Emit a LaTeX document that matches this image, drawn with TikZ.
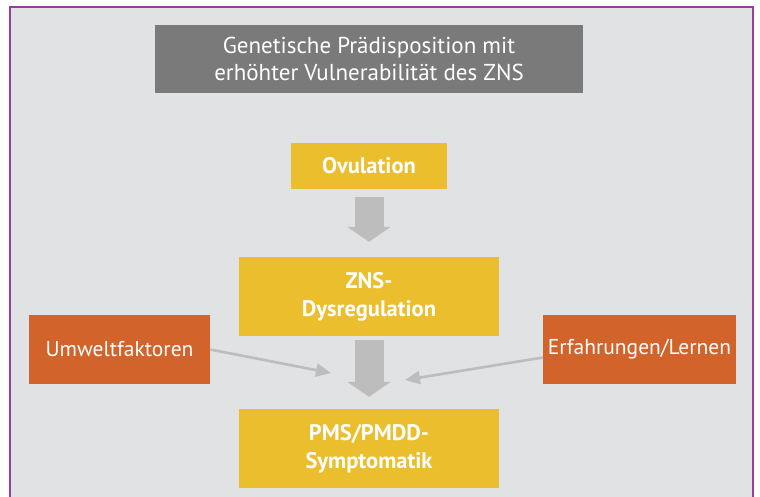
\documentclass[tikz,border=0pt]{standalone}
\usepackage{fontspec}
\setmainfont{PT Sans}
\usetikzlibrary{arrows.meta}
\definecolor{bgray}{HTML}{E1E2E3}
\definecolor{frame}{HTML}{9A3C9C}
\definecolor{dgray}{HTML}{7A7A7A}
\definecolor{ylw}{HTML}{EBBE2D}
\definecolor{orng}{HTML}{D2632A}
\definecolor{agray}{HTML}{BDBDBD}
\tikzset{
  box/.style={inner sep=0pt, align=center, text=white, font=\fontsize{23}{27}\selectfont},
  ybox/.style={box, fill=ylw, font=\fontsize{22.5}{28}\selectfont\bfseries},
  obox/.style={box, fill=orng, font=\fontsize{21.5}{24}\selectfont},
  fat/.style={draw=agray, line width=29pt, -{Triangle[length=15pt,width=43pt]}},
  thin/.style={draw=agray, line width=2.6pt, -{Triangle[length=15pt,width=13pt]}},
}
\begin{document}
\begin{tikzpicture}[x=1pt,y=-1pt]
\useasboundingbox (0,0) rectangle (760,497);
\fill[white] (0,0) rectangle (760,497);
\draw[frame, line width=2.6pt, fill=bgray] (10,7) rectangle (753,520);
\node[box, fill=dgray, minimum width=428pt, minimum height=68pt] (gen) at (369,59) {Genetische Prädisposition mit\\erhöhter Vulnerabilität des ZNS};
\node[ybox, minimum width=156pt, minimum height=46pt] (ov) at (369,166) {Ovulation};
\node[ybox, minimum width=260pt, minimum height=79pt] (zns) at (369,296.5) {ZNS-\\Dysregulation};
\node[ybox, minimum width=260pt, minimum height=79pt] (pms) at (369,448.5) {PMS/PMDD-\\Symptomatik};
\node[obox, minimum width=181pt, minimum height=69pt] (umw) at (119.5,349.5) {Umweltfaktoren};
\node[obox, minimum width=193pt, minimum height=69pt] (erf) at (639.5,349.5) {Erfahrungen/Lernen};
\draw[fat, shorten <=8pt, shorten >=15pt] (ov.south) -- (zns.north);
\draw[fat, shorten <=4pt, shorten >=12pt] (zns.south) -- (pms.north);
\coordinate (t1) at (331,373);
\coordinate (t2) at (405,380);
\draw[thin] (umw.east) -- (t1);
\draw[thin] ([yshift=-8pt]erf.west) -- (t2);
\end{tikzpicture}
\end{document}
